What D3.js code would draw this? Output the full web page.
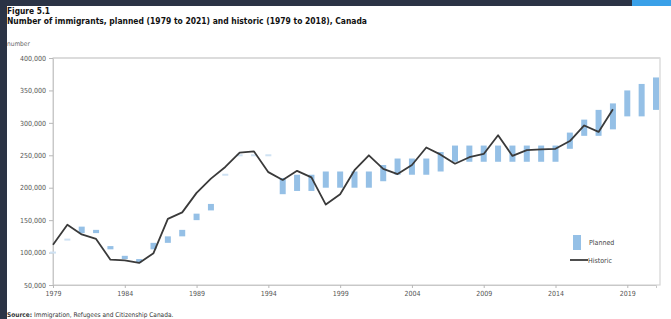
<!DOCTYPE html>
<html>
<head>
<meta charset="utf-8">
<script src="https://cdn.jsdelivr.net/npm/d3@7"></script>
<style>
  body { margin: 0; background: #2b3345; }
  svg { display: block; }
</style>
</head>
<body>
<svg id="chart" width="671" height="319"></svg>
<script>
// years shown on the x axis
var years = d3.range(1979, 2022);
var yearTicks = [1979, 1984, 1989, 1994, 1999, 2004, 2009, 2014, 2019];
var valueTicks = [50000, 100000, 150000, 200000, 250000, 300000, 350000, 400000];

// planned range, low and high, 1979 to 2021
var plannedLow = [100000, 120000, 130000, 130000, 105000, 90000, 85000, 105000, 115000, 125000,
  150000, 165000, 220000, 250000, 250000, 250000, 190000, 195000, 195000, 200000,
  200000, 200000, 200000, 210000, 220000, 220000, 220000, 225000, 240000, 240000,
  240000, 240000, 240000, 240000, 240000, 240000, 260000, 280000, 280000, 290000,
  310000, 310000, 320000];
var plannedHigh = [100000, 120000, 140000, 135000, 110000, 95000, 90000, 115000, 125000, 135000,
  160000, 175000, 220000, 250000, 250000, 250000, 215000, 220000, 220000, 225000,
  225000, 225000, 225000, 235000, 245000, 245000, 245000, 255000, 265000, 265000,
  265000, 265000, 265000, 265000, 265000, 265000, 285000, 305000, 320000, 330000,
  350000, 360000, 370000];

// historic admissions, 1979 to 2018
var historic = [112000, 143000, 128000, 121000, 89000, 88000, 84000, 99000, 152000, 162000,
  192000, 214000, 232000, 254000, 256000, 224000, 212000, 226000, 216000, 174000,
  190000, 227000, 250000, 229000, 221000, 235000, 262000, 251000, 237000, 247000,
  252000, 281000, 249000, 258000, 259000, 260000, 272000, 296000, 286000, 321000];

var svg = d3.select("#chart");

// page background with dark frame left and top
svg.append("rect").attr("x", 7).attr("y", 6).attr("width", 664).attr("height", 313).attr("fill", "#fff");
svg.append("rect").attr("x", 632).attr("y", 0).attr("width", 39).attr("height", 6).attr("fill", "#3aa0e8");

var plotL = 53, plotR = 660, plotT = 58, plotB = 285;

var x = d3.scaleLinear().domain([1979, 2021]).range([plotL, 656]);
var y = d3.scaleLinear().domain([50000, 400000]).range([plotB, plotT]);

// titles
svg.append("text").attr("x", 7).attr("y", 14)
  .attr("font-family", "DejaVu Sans Condensed, DejaVu Sans").attr("font-weight", "bold")
  .attr("font-size", 8.5).attr("fill", "#111")
  .attr("textLength", 43).attr("lengthAdjust", "spacingAndGlyphs")
  .text("Figure 5.1");
svg.append("text").attr("x", 7).attr("y", 24)
  .attr("font-family", "DejaVu Sans Condensed, DejaVu Sans").attr("font-weight", "bold")
  .attr("font-size", 8.5).attr("fill", "#111")
  .attr("textLength", 360).attr("lengthAdjust", "spacingAndGlyphs")
  .text("Number of immigrants, planned (1979 to 2021) and historic  (1979 to 2018), Canada");
svg.append("text").attr("x", 7).attr("y", 46)
  .attr("font-family", "DejaVu Sans Condensed, DejaVu Sans")
  .attr("font-size", 6.5).attr("fill", "#666")
  .text("number");

// plot frame
svg.append("rect").attr("x", plotL).attr("y", plotT).attr("width", plotR - plotL).attr("height", plotB - plotT)
  .attr("fill", "none").attr("stroke", "#d4d4d4").attr("stroke-width", 1.2);
svg.append("line").attr("x1", plotL).attr("x2", plotR).attr("y1", plotT).attr("y2", plotT)
  .attr("stroke", "#dcdcdc").attr("stroke-width", 2);

// axes
var yAxis = svg.append("g").attr("transform", "translate(" + plotL + ",0)")
  .call(d3.axisLeft(y).tickValues(valueTicks).tickFormat(d3.format(",")).tickSize(4).tickPadding(3));
var xAxis = svg.append("g").attr("transform", "translate(0," + plotB + ")")
  .call(d3.axisBottom(x).tickValues(yearTicks).tickFormat(d3.format("d")).tickSize(3).tickPadding(3));

[yAxis, xAxis].forEach(function(g) {
  g.select(".domain").attr("stroke", "#c8c8c8");
  g.selectAll(".tick line").attr("stroke", "#b8b8b8");
  g.selectAll(".tick text").attr("fill", "#555")
    .attr("font-family", "DejaVu Sans Condensed, DejaVu Sans").attr("font-size", 7);
});

// planned bars
var barW = 6;
svg.append("g").selectAll("rect")
  .data(years)
  .enter()
  .append("rect")
  .attr("x", function(d) { return x(d) - barW / 2; })
  .attr("y", function(d, i) {
    var h = y(plannedLow[i]) - y(plannedHigh[i]);
    return h < 2 ? y(plannedHigh[i]) - 1 : y(plannedHigh[i]);
  })
  .attr("width", barW)
  .attr("height", function(d, i) {
    return Math.max(2, y(plannedLow[i]) - y(plannedHigh[i]));
  })
  .attr("fill", function(d, i) { return plannedHigh[i] == plannedLow[i] ? "#cfe2f3" : "#95c0e6"; });

// historic line
var line = d3.line()
  .x(function(d, i) { return x(1979 + i); })
  .y(function(d) { return y(d); });
svg.append("path").datum(historic)
  .attr("d", line)
  .attr("fill", "none").attr("stroke", "#3a3a3a").attr("stroke-width", 1.8)
  .attr("stroke-linejoin", "round");

// legend
svg.append("rect").attr("x", 573).attr("y", 235).attr("width", 8).attr("height", 15).attr("fill", "#95c0e6");
svg.append("text").attr("x", 589).attr("y", 245)
  .attr("font-family", "DejaVu Sans Condensed, DejaVu Sans").attr("font-size", 7).attr("fill", "#444")
  .text("Planned");
svg.append("line").attr("x1", 570).attr("x2", 588).attr("y1", 260).attr("y2", 260)
  .attr("stroke", "#3a3a3a").attr("stroke-width", 1.8);
svg.append("text").attr("x", 588).attr("y", 262.5)
  .attr("font-family", "DejaVu Sans Condensed, DejaVu Sans").attr("font-size", 7).attr("fill", "#444")
  .text("Historic");

// source
var src = svg.append("text").attr("x", 7).attr("y", 317)
  .attr("font-family", "DejaVu Sans Condensed, DejaVu Sans").attr("font-size", 6.5).attr("fill", "#333");
src.append("tspan").attr("font-weight", "bold").text("Source: ");
src.append("tspan").text("Immigration, Refugees and Citizenship Canada.");
</script>
</body>
</html>
